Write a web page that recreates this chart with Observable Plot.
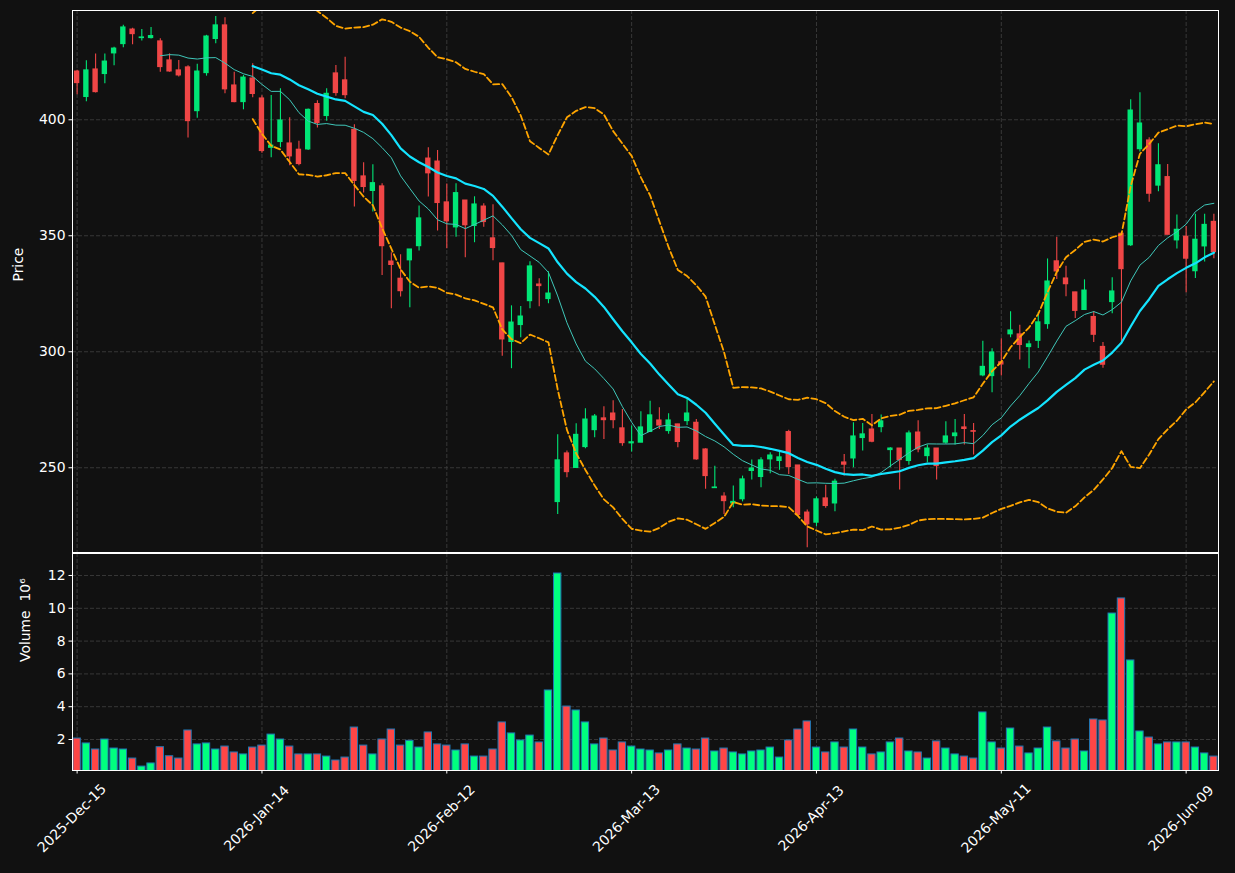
<!DOCTYPE html>
<html><head><meta charset="utf-8">
<script src="https://cdn.jsdelivr.net/npm/d3@7"></script>
<script src="https://cdn.jsdelivr.net/npm/@observablehq/plot@0.6"></script>
<style>
html,body{margin:0;padding:0;background:#111111;}
#chart{position:relative;width:1235px;height:873px;background:#111111;overflow:hidden;}
#chart svg{position:absolute;left:0;}
</style></head><body><div id="chart"></div>
<script>
// ---- data ----
const openP = [420.8,409.8,421.7,419.7,428.6,432.6,438.9,435.2,435.2,433.8,
425.6,421.3,422.6,403.7,420.1,434.8,440.7,414.8,407.6,417.8,
409.2,387.9,390.4,389.8,387.1,387.2,406.8,401.6,420.0,417.0,
395.7,375.6,369.3,371.3,338.9,331.5,339.4,345.5,383.3,382.0,
364.4,353.6,365.2,354.2,362.6,348.9,338.1,304.2,311.5,321.8,
329.0,322.7,235.2,256.2,249.9,258.9,266.2,271.3,273.4,267.0,
260.5,260.8,265.4,270.4,265.8,268.7,270.1,269.4,257.9,241.2,
237.6,234.6,236.4,248.6,246.0,253.6,252.9,265.4,251.0,230.7,
226.3,236.8,234.6,252.3,254.0,262.8,266.5,267.5,257.6,258.3,
252.9,265.2,255.0,258.3,260.8,263.6,267.4,265.8,289.8,289.5,
295.5,307.5,307.5,302.0,304.7,311.9,339.0,331.6,325.6,318.0,
315.0,302.1,321.4,350.9,345.9,387.3,391.1,371.6,375.3,348.0,
349.6,334.7,345.4,356.0];
const highP = [421.3,425.4,428.4,428.4,431.3,440.7,439.4,438.9,439.8,434.9,
428.4,425.6,423.3,423.9,436.4,444.5,444.0,420.5,419.1,424.1,
410.3,410.5,413.4,400.9,390.7,404.6,408.2,413.4,423.4,427.0,
397.8,381.5,380.6,372.4,342.7,341.8,344.1,362.8,387.9,386.8,
372.3,372.4,365.2,366.8,363.8,363.4,338.1,319.8,319.5,338.8,
331.5,334.5,264.2,257.2,269.0,275.4,273.0,276.3,278.9,275.1,
268.0,274.1,278.7,275.9,273.3,268.7,279.7,270.8,258.2,250.7,
239.2,242.1,246.4,253.3,254.3,256.5,256.8,266.2,251.0,231.8,
237.4,242.5,245.0,255.7,269.4,269.1,273.0,272.7,258.6,258.3,
265.8,270.3,259.8,258.3,269.8,270.8,273.0,269.1,304.5,301.3,
305.6,317.2,311.4,304.6,316.9,340.0,349.4,336.9,325.6,331.0,
317.3,304.0,331.9,350.9,408.6,411.6,392.3,389.7,380.7,359.0,
354.0,359.3,359.3,359.3];
const lowP = [410.8,407.8,411.5,415.5,423.3,431.0,432.3,433.9,434.8,420.5,
420.5,418.4,392.1,400.7,418.8,432.8,411.2,407.3,404.3,409.5,
385.6,383.6,387.9,380.2,380.2,386.8,396.4,399.4,410.1,409.1,
362.4,368.4,360.2,332.9,318.5,323.6,319.0,343.4,366.7,352.0,
344.4,349.4,340.5,347.0,353.7,339.2,298.1,292.7,306.0,318.5,
319.4,320.7,229.9,245.7,249.9,258.2,262.9,262.2,266.8,259.3,
256.8,260.8,265.4,266.5,264.4,258.6,268.2,253.2,240.7,241.1,
229.9,232.8,235.3,244.7,241.4,247.4,248.9,247.1,229.2,215.5,
224.6,232.5,231.0,246.4,250.0,257.2,260.8,265.1,250.0,240.4,
251.1,256.5,252.2,244.7,260.1,259.8,259.8,255.5,289.2,282.3,
289.5,306.0,296.4,292.7,301.4,309.7,331.1,323.7,314.3,318.0,
304.0,292.9,316.4,303.3,345.4,386.1,364.4,369.0,350.4,344.3,
325.4,331.6,338.7,340.1];
const closeP = [415.8,421.3,411.9,425.1,430.7,439.8,436.9,435.5,436.1,422.7,
420.8,419.1,399.4,420.8,435.9,440.7,413.1,407.6,418.2,411.1,
386.5,388.9,399.7,384.2,380.9,404.3,398.6,411.2,411.5,410.6,
373.6,371.0,372.7,345.5,337.4,326.1,344.1,357.5,376.9,364.1,
356.2,368.4,354.5,363.5,355.9,344.7,305.3,312.6,315.2,336.8,
328.3,325.1,253.2,248.1,264.2,270.8,272.1,270.5,270.5,260.6,
261.0,267.4,272.6,268.2,270.4,261.1,273.4,253.6,246.4,241.5,
235.6,235.3,245.0,249.7,253.2,255.3,254.5,250.3,229.6,225.6,
236.4,233.5,244.0,251.3,263.5,264.4,261.2,270.0,258.3,253.3,
264.8,257.9,258.3,250.7,263.5,264.8,266.7,265.5,293.5,299.7,
294.5,309.2,302.9,303.2,312.7,330.3,334.6,329.1,317.6,326.4,
307.3,294.4,326.0,335.6,404.0,398.4,368.1,380.4,350.4,352.6,
340.1,348.3,354.7,342.9];
const volumeM = [2.06,1.76,1.39,2.00,1.45,1.39,0.84,0.35,0.54,1.53,
0.98,0.84,2.55,1.70,1.76,1.39,1.57,1.21,1.09,1.51,
1.63,2.30,2.00,1.57,1.09,1.09,1.09,0.96,0.72,0.90,
2.73,1.63,1.09,2.00,2.61,1.63,1.92,1.51,2.43,1.70,
1.63,1.33,1.70,0.96,0.96,1.39,3.04,2.37,1.94,2.24,
1.82,4.99,12.12,4.01,3.77,3.04,1.70,2.06,1.33,1.82,
1.57,1.39,1.33,1.15,1.33,1.70,1.45,1.39,2.06,1.27,
1.45,1.21,1.09,1.27,1.33,1.51,0.90,1.94,2.61,3.10,
1.51,1.21,1.82,1.51,2.61,1.51,1.09,1.21,1.82,2.06,
1.27,1.21,0.84,1.88,1.45,1.09,0.96,0.84,3.65,1.82,
1.45,2.67,1.57,1.15,1.45,2.73,1.88,1.45,2.00,1.27,
3.22,3.16,9.68,10.60,6.82,2.49,2.12,1.70,1.82,1.82,
1.82,1.51,1.15,0.96];
const tickIndex = [0,20,40,60,80,100,120];
const tickLabels = ["2025-Dec-15","2026-Jan-14","2026-Feb-12","2026-Mar-13","2026-Apr-13","2026-May-11","2026-Jun-09"];
const priceTicks = [250,300,350,400];
const volumeTicks = [2,4,6,8,10,12];

// ---- derived ----
const bars = closeP.map((c,i)=>({i,o:openP[i],h:highP[i],l:lowP[i],c,v:volumeM[i],up:c>=openP[i]}));
function sma(k){return closeP.map((_,i)=> i<k-1?NaN:d3.mean(closeP.slice(i-k+1,i+1)));}
function sdev(k){return closeP.map((_,i)=>{ if(i<k-1) return NaN; const s=closeP.slice(i-k+1,i+1); const m=d3.mean(s); return Math.sqrt(d3.mean(s,v=>(v-m)*(v-m)));});}
const ma10=sma(10), ma20=sma(20), sd20=sdev(20);
const lines = bars.map(d=>({i:d.i, ma10:ma10[d.i], ma20:ma20[d.i], up:ma20[d.i]+2*sd20[d.i], lo:ma20[d.i]-2*sd20[d.i]}));

const UPC="#00e676", DNC="#f04646", VUP="#00ff7f", VDN="#ff4646";
const W=1235, xDomain=[-0.5,123.5];
const font='"DejaVu Sans", sans-serif';
const grid={stroke:"#3c3c3c", strokeDasharray:"4,2", strokeWidth:0.9};
const band={stroke:"#ffa500", strokeWidth:1.8, strokeDasharray:"6,3", clip:true};

const price = Plot.plot({
  width:W, height:553, marginLeft:72, marginRight:17, marginTop:10, marginBottom:1,
  style:{background:"transparent", color:"#ffffff", fontFamily:font, fontSize:"13.9px"},
  x:{domain:xDomain, axis:null},
  y:{domain:[213.47,447.1], axis:null},
  color:{type:"identity"},
  marks:[
    Plot.ruleX(tickIndex, grid),
    Plot.ruleY(priceTicks, grid),
    Plot.ruleX(bars,{x:"i", y1:"l", y2:"h", stroke:d=>d.up?UPC:DNC, strokeWidth:1.1}),
    Plot.rect(bars,{x1:d=>d.i-0.29, x2:d=>d.i+0.29, y1:d=>Math.min(d.o,d.c), y2:d=>Math.max(d.o,d.c), fill:d=>d.up?UPC:DNC, insetTop:-0.5, insetBottom:-0.5}),
    Plot.line(lines,{x:"i", y:"ma10", stroke:"#3fc7b9", strokeWidth:1}),
    Plot.line(lines,{x:"i", y:"ma20", stroke:"#14e4ff", strokeWidth:2.2}),
    Plot.line(lines,{x:"i", y:"up", ...band}),
    Plot.line(lines,{x:"i", y:"lo", ...band}),
    Plot.axisY(priceTicks,{anchor:"left", tickSize:3.5, tickPadding:3.5, label:null, fontSize:13.9, fill:"#ffffff", stroke:"#ffffff"}),
    Plot.text(["Price"],{frameAnchor:"left", rotate:-90, dx:-54, fill:"#ffffff", fontSize:13.9}),
    Plot.frame({stroke:"#ffffff", strokeWidth:1})
  ]
});

const vol = Plot.plot({
  width:W, height:321, marginLeft:72, marginRight:17, marginTop:1, marginBottom:103,
  style:{background:"transparent", color:"#ffffff", fontFamily:font, fontSize:"13.9px"},
  x:{domain:xDomain, axis:null},
  y:{domain:[0.11,13.34], axis:null},
  color:{type:"identity"},
  marks:[
    Plot.ruleX(tickIndex, grid),
    Plot.ruleY(volumeTicks, grid),
    Plot.rect(bars,{x1:d=>d.i-0.4, x2:d=>d.i+0.4, y1:()=>0, y2:"v", fill:d=>d.up?VUP:VDN, stroke:"#1f77b4", strokeWidth:1, clip:true}),
    Plot.axisY(volumeTicks,{anchor:"left", tickSize:3.5, tickPadding:3.5, label:null, fontSize:13.9, fill:"#ffffff", stroke:"#ffffff"}),
    Plot.axisX(tickIndex,{anchor:"bottom", tickSize:3.5, tickFormat:()=>"", label:null, stroke:"#ffffff"}),
    Plot.text(tickIndex,{x:d=>d, text:d=>tickLabels[tickIndex.indexOf(d)], frameAnchor:"bottom", rotate:-45, textAnchor:"middle", dx:-2, dy:51, fill:"#ffffff", fontSize:13.9}),
    Plot.text(["Volume  10\u2076"],{frameAnchor:"left", rotate:-90, dx:-47, fill:"#ffffff", fontSize:13.9}),
    Plot.frame({stroke:"#ffffff", strokeWidth:1})
  ]
});

const host=document.getElementById("chart");
price.style.top="0px";
vol.style.top="552px";
host.appendChild(price);
host.appendChild(vol);
</script></body></html>
